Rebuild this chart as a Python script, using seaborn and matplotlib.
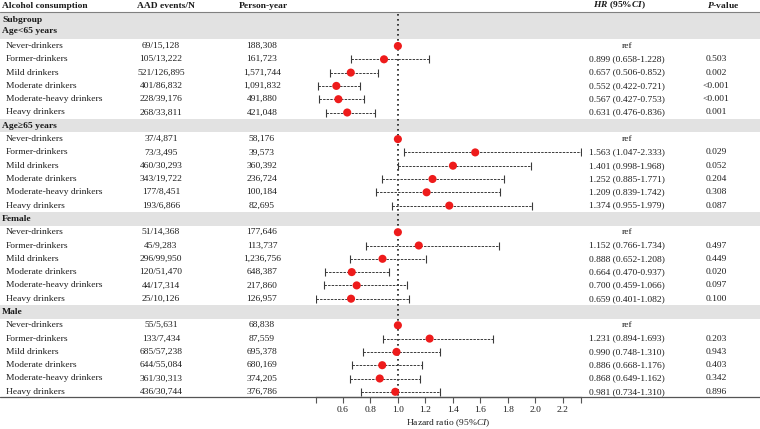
import numpy as np
import pandas as pd
import matplotlib
matplotlib.use("Agg")
import matplotlib.pyplot as plt
import seaborn as sns

# ---------------- data ----------------
groups = ["Age<65 years", "Age≥65 years", "Female", "Male"]
categories = ["Never-drinkers", "Former-drinkers", "Mild drinkers",
              "Moderate drinkers", "Moderate-heavy drinkers", "Heavy drinkers"]

events_n = [
    ["69/15,128", "105/13,222", "521/126,895", "401/86,832", "228/39,176", "268/33,811"],
    ["37/4,871", "73/3,495", "460/30,293", "343/19,722", "177/8,451", "193/6,866"],
    ["51/14,368", "45/9,283", "296/99,950", "120/51,470", "44/17,314", "25/10,126"],
    ["55/5,631", "133/7,434", "685/57,238", "644/55,084", "361/30,313", "436/30,744"],
]
person_year = [
    ["188,308", "161,723", "1,571,744", "1,091,832", "491,880", "421,048"],
    ["58,176", "39,573", "360,392", "236,724", "100,184", "82,695"],
    ["177,646", "113,737", "1,236,756", "648,387", "217,860", "126,957"],
    ["68,838", "87,559", "695,378", "680,169", "374,205", "376,786"],
]
hr = [
    [1.0, 0.899, 0.657, 0.552, 0.567, 0.631],
    [1.0, 1.563, 1.401, 1.252, 1.209, 1.374],
    [1.0, 1.152, 0.888, 0.664, 0.700, 0.659],
    [1.0, 1.231, 0.990, 0.886, 0.868, 0.981],
]
ci_low = [
    [None, 0.658, 0.506, 0.422, 0.427, 0.476],
    [None, 1.047, 0.998, 0.885, 0.839, 0.955],
    [None, 0.766, 0.652, 0.470, 0.459, 0.401],
    [None, 0.894, 0.748, 0.668, 0.649, 0.734],
]
ci_high = [
    [None, 1.228, 0.852, 0.721, 0.753, 0.836],
    [None, 2.333, 1.968, 1.771, 1.742, 1.979],
    [None, 1.734, 1.208, 0.937, 1.066, 1.082],
    [None, 1.693, 1.310, 1.176, 1.162, 1.310],
]
p_values = [
    ["", "0.503", "0.002", "<0.001", "<0.001", "0.001"],
    ["", "0.029", "0.052", "0.204", "0.308", "0.087"],
    ["", "0.497", "0.449", "0.020", "0.097", "0.100"],
    ["", "0.203", "0.943", "0.403", "0.342", "0.896"],
]
tick_values = [0.401, 0.6, 0.8, 1.0, 1.2, 1.4, 1.6, 1.8, 2.0, 2.2, 2.333]
tick_labels = ["", "0.6", "0.8", "1.0", "1.2", "1.4", "1.6", "1.8", "2.0", "2.2", ""]

# ---------------- style ----------------
sns.set_theme(style="white")
plt.rcParams['font.family'] = ['Liberation Serif', 'DejaVu Serif']
plt.rcParams['mathtext.fontset'] = 'custom'
plt.rcParams['mathtext.rm'] = 'Liberation Serif'
plt.rcParams['mathtext.it'] = 'Liberation Serif:italic'
plt.rcParams['mathtext.bf'] = 'Liberation Serif:bold'
plt.rcParams['mathtext.bfit'] = 'Liberation Serif:italic:bold'

FS = 6.8
TXT = "#1e1e1e"
BAND = "#e2e2e2"

W, H = 760, 429
fig = plt.figure(figsize=(W / 100, H / 100), dpi=100)
tab = fig.add_axes([0, 0, 1, 1])
tab.set_xlim(0, W)
tab.set_ylim(H, 0)
tab.axis("off")

# layout
step = 13.3
y_first = 46.0
axis_y = 397.0
X_LBL, X_GRP = 6, 2
X_EV, X_PY, X_HR, X_P = 161, 262, 627, 716
AX_L, AX_R = 315.6, 581.0

# header
tab.text(X_GRP, 5.5, "Alcohol consumption", fontsize=FS, fontweight="bold", va="center", ha="left", color="k")
tab.text(X_EV + 5, 5.5, "AAD events/N", fontsize=FS, fontweight="bold", va="center", ha="center", color="k")
tab.text(X_PY + 1, 5.5, "Person-year", fontsize=FS, fontweight="bold", va="center", ha="center", color="k")
tab.text(X_HR - 7, 5.5, r"$\mathbfit{HR}$ (95%$\mathbfit{CI}$)", fontsize=FS, fontweight="bold",
         va="center", ha="center", color="k")
tab.text(X_P + 7, 5.5, r"$\mathbfit{P}$-value", fontsize=FS, fontweight="bold", va="center", ha="center", color="k")
tab.axhline(12.3, color="#808080", lw=0.8, zorder=1)

rows = []
for g, gname in enumerate(groups):
    if g == 0:
        tab.axhspan(12.3, y_first - step / 2, color=BAND, lw=0, zorder=0)
        tab.text(X_GRP, 20.5, "Subgroup", fontsize=FS, fontweight="bold", va="center", color="k")
        tab.text(X_GRP, 30.8, gname, fontsize=FS, fontweight="bold", va="center", color="k")
    else:
        yb = y_first + step * (7 * g - 1)
        tab.axhspan(yb - step / 2, yb + step / 2, color=BAND, lw=0, zorder=0)
        tab.text(X_GRP, yb, gname, fontsize=FS, fontweight="bold", va="center", color="k")
    for i, cat in enumerate(categories):
        y = y_first + step * (7 * g + i)
        tab.text(X_LBL, y, cat, fontsize=FS, va="center", ha="left", color=TXT)
        tab.text(X_EV, y, events_n[g][i], fontsize=FS, va="center", ha="center", color=TXT)
        tab.text(X_PY, y, person_year[g][i], fontsize=FS, va="center", ha="center", color=TXT)
        if ci_low[g][i] is None:
            hr_txt = "ref"
        else:
            hr_txt = f"{hr[g][i]:.3f} ({ci_low[g][i]:.3f}-{ci_high[g][i]:.3f})"
        tab.text(X_HR, y, hr_txt, fontsize=FS, va="center", ha="center", color=TXT)
        tab.text(X_P, y, p_values[g][i], fontsize=FS, va="center", ha="center", color=TXT)
        rows.append(dict(group=gname, cat=cat, y=y, hr=hr[g][i],
                         lo=ci_low[g][i] if ci_low[g][i] is not None else np.nan,
                         hi=ci_high[g][i] if ci_high[g][i] is not None else np.nan))

df = pd.DataFrame(rows)

tab.axhline(axis_y, color="#555555", lw=0.9, zorder=1)
tab.text((AX_L + AX_R) / 2, 423.5, r"Hazard ratio (95%$\mathit{CI}$)", fontsize=FS, ha="center", va="center", color=TXT)

# ---------------- forest axes ----------------
fa = fig.add_axes([AX_L / W, 0, (AX_R - AX_L) / W, 1])
fa.patch.set_alpha(0)
fa.set_xlim(0.401, 2.333)
fa.set_ylim(H, 0)

fa.vlines(1.0, 14, axis_y, colors="k", linestyles=(0, (1, 2)), lw=1.2, zorder=2)

ci = df.dropna(subset=["lo"])
eb = fa.errorbar(ci["hr"], ci["y"], xerr=[ci["hr"] - ci["lo"], ci["hi"] - ci["hr"]],
                 fmt="none", ecolor="#3a3a3a", elinewidth=0.7, capsize=2.6, capthick=0.8, zorder=3)
for lc in eb[2]:
    lc.set_linestyle((0, (2.5, 1.2)))

sns.scatterplot(data=df, x="hr", y="y", ax=fa, color="#ee1b1b", s=34, edgecolor="none",
                zorder=5, legend=False)

fa.set_xlabel("")
fa.set_ylabel("")
fa.set_yticks([])
for s in ["left", "top", "right"]:
    fa.spines[s].set_visible(False)
fa.spines["bottom"].set_position(("data", axis_y))
fa.spines["bottom"].set_color("#555555")
fa.spines["bottom"].set_linewidth(0.9)
fa.set_xticks(tick_values)
fa.set_xticklabels(tick_labels)
fa.tick_params(axis="x", direction="out", length=4.5, width=0.8, color="#555555",
               labelsize=FS, labelcolor=TXT, pad=2, bottom=True)

fig.savefig("out.png", dpi=100)
